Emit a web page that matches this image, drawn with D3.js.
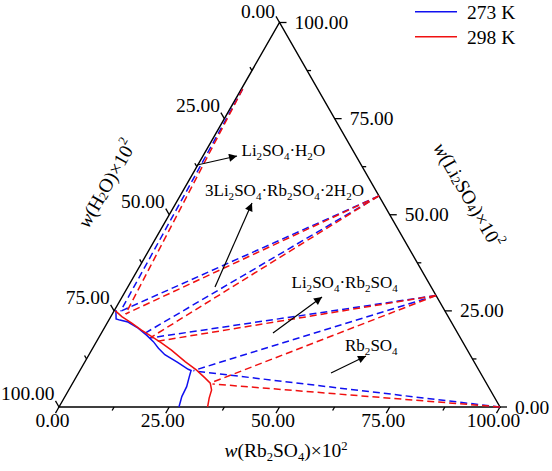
<!DOCTYPE html>
<html><head><meta charset="utf-8">
<script src="https://cdn.jsdelivr.net/npm/d3@7"></script>
<style>
body{margin:0;background:#fff}
svg{display:block}
text{font-family:"Liberation Serif","Times New Roman",serif;fill:#000}
</style>
</head><body>
<svg id="c" width="552" height="471"></svg>
<script>
// ---- data: points are [w(Rb2SO4)×10², w(Li2SO4)×10²]; w(H2O) = 100 - both ----
const majorTicks = [0, 25, 50, 75, 100];
const minorTicks = [12.5, 37.5, 62.5, 87.5];
const tickFormat = d3.format(".2f");

const series = ["273 K", "298 K"];
const seriesColors = ["#1010f0", "#f01010"];

// solubility curves
const curve273 = [[0.3,25.2],[1.5,22.9],[2.5,22.6],[4.6,22.1],[7.7,20.5],[10.5,18.7],[12.9,17.0],[14.9,15.3],[17.2,13.6],[21.1,11.6],[24.4,9.8],[25.2,9.5],[25.6,7.9],[26.3,5.3],[26.5,2.7],[27.2,0]];
const curve298 = [[0.3,25.0],[2.5,23.5],[5.6,21.8],[8.7,20.0],[11.9,18.3],[15.0,16.6],[18.1,14.8],[22.7,11.8],[26.4,9.6],[29.4,7.5],[31.2,6.2],[32.4,4.4],[32.9,2.3],[33.7,0]];

// solid phases
const phaseH = [0.3, 82.7];      // Li2SO4·H2O
const phase312 = [45.1, 54.9];   // 3Li2SO4·Rb2SO4·2H2O
const phaseLR = [71.0, 29.0];    // Li2SO4·Rb2SO4
const phaseRb = [100, 0];        // Rb2SO4

// tie-line liquid ends
const tieEnds273 = [[1.5,24.9],[1.5,24.9],[9.9,19.2],[11.6,17.95],[25.8,9.5],[25.8,9.4]];
const tieEnds298 = [[3.0,24.2],[3.0,24.2],[11.8,18.1],[13.3,17.0],[31.5,6.4],[31.8,6.0]];
const tiePhases = [phaseH, phase312, phase312, phaseLR, phaseLR, phaseRb];

// annotations: label, text start, arrow tail, arrow head
const annLabels = ["Li_2SO_4·H_2O", "3Li_2SO_4·Rb_2SO_4·2H_2O", "Li_2SO_4·Rb_2SO_4", "Rb_2SO_4"];
const annText = [[241.5,156],[205,196],[291.5,288],[345,351]];
const annTail = [[197,165],[215,287],[273,333],[331,373]];
const annHead = [[237,156],[252,203],[322,297],[366,356]];

// ---- geometry ----
const BL = [59, 407], BR = [500, 407], TP = [279.5, 22.5];
const sx = d3.scaleLinear().domain([0,100]).range([0, BR[0]-BL[0]]);
const sxL = d3.scaleLinear().domain([0,100]).range([0, TP[0]-BL[0]]);
const sy = d3.scaleLinear().domain([0,100]).range([BL[1], TP[1]]);
const P = d => [BL[0] + sx(d[0]) + sxL(d[1]), sy(d[1])];

const svg = d3.select("#c");
const defs = svg.append("defs");
defs.append("marker").attr("id","ah").attr("viewBox","0 0 10 10").attr("refX",10).attr("refY",5)
  .attr("markerWidth",11).attr("markerHeight",8).attr("markerUnits","userSpaceOnUse").attr("orient","auto")
  .append("path").attr("d","M0,0L10,5L0,10Z").attr("fill","#000");

function richText(sel, s, size) {
  const parts = s.split(/(_[0-9]+|\^[0-9]+)/).filter(p => p.length);
  let shift = 0;
  parts.forEach(p => {
    const t = sel.append("tspan");
    if (p[0] === "_") { t.text(p.slice(1)).attr("font-size", size*0.65).attr("dy", 4 - shift); shift = 4; }
    else if (p[0] === "^") { t.text(p.slice(1)).attr("font-size", size*0.65).attr("dy", -7 - shift); shift = -7; }
    else { t.text(p).attr("dy", -shift); shift = 0; }
  });
}

// ---- triangle ----
svg.append("path").attr("d", d3.line()([P([0,0]), P([100,0]), P([0,100])]) + "Z")
  .attr("fill","none").attr("stroke","#000").attr("stroke-width",1.4);

const c60 = 0.5, s60 = Math.sqrt(3)/2;
function tk(p, dir, len) {
  svg.append("line").attr("x1",p[0]).attr("y1",p[1]).attr("x2",p[0]+dir[0]*len).attr("y2",p[1]+dir[1]*len)
    .attr("stroke","#000").attr("stroke-width",1.3);
}
const fs = 19.5;
majorTicks.forEach(v => {
  // bottom: w(Rb2SO4)
  let p = P([v,0]); tk(p, [-c60, s60], 7);
  svg.append("text").attr("x", p[0]-6.5).attr("y", p[1]+20).attr("text-anchor","middle").attr("font-size",fs).text(tickFormat(v));
  // left: w(H2O)
  p = P([0,100-v]); tk(p, [-c60,-s60], 7);
  svg.append("text").attr("x", p[0]-c60*7-1).attr("y", Math.max(p[1]-s60*7-1, 17.5)).attr("text-anchor","end").attr("font-size",fs).text(tickFormat(v));
  // right: w(Li2SO4)
  p = P([100-v, v]); tk(p, [1,0], 7);
  svg.append("text").attr("x", p[0]+15).attr("y", p[1]+6.5).attr("text-anchor","start").attr("font-size",fs).text(tickFormat(v));
});
minorTicks.forEach(v => {
  tk(P([v,0]), [-c60, s60], 4);
  tk(P([0,100-v]), [-c60,-s60], 4);
  tk(P([100-v, v]), [1,0], 4);
});

// axis titles
const bt = svg.append("text").attr("x",286).attr("y",457).attr("text-anchor","middle").attr("font-size",fs);
bt.append("tspan").attr("font-style","italic").text("w");
richText(bt, "(Rb_2SO_4)×10^2", fs);

function mid(a,b,t){return [a[0]+(b[0]-a[0])*t, a[1]+(b[1]-a[1])*t];}
let lc = mid(BL, TP, 0.49); lc = [lc[0]-s60*70, lc[1]-c60*70];
const lt = svg.append("text").attr("transform",`translate(${lc[0]},${lc[1]}) rotate(-60)`)
  .attr("text-anchor","middle").attr("dominant-baseline","central").attr("font-size",fs);
lt.append("tspan").attr("font-style","italic").text("w");
richText(lt, "(H_2O)×10^2", fs);

let rc = mid(TP, BR, 0.55); rc = [rc[0]+s60*78, rc[1]-c60*78];
const rt = svg.append("text").attr("transform",`translate(${rc[0]},${rc[1]}) rotate(60)`)
  .attr("text-anchor","middle").attr("dominant-baseline","central").attr("font-size",fs);
rt.append("tspan").attr("font-style","italic").text("w");
richText(rt, "(Li_2SO_4)×10^2", fs);

// ---- tie lines ----
[tieEnds273, tieEnds298].forEach((ends, k) => {
  svg.append("g").selectAll("line").data(ends).join("line")
    .attr("x1", (d,i) => P(tiePhases[i])[0]).attr("y1", (d,i) => P(tiePhases[i])[1])
    .attr("x2", d => P(d)[0]).attr("y2", d => P(d)[1])
    .attr("stroke", seriesColors[k]).attr("stroke-width",1.5).attr("stroke-dasharray","7,4");
});

// ---- solubility curves ----
const line = d3.line().x(d => P(d)[0]).y(d => P(d)[1]);
[curve273, curve298].forEach((c, k) => {
  svg.append("path").attr("d", line(c)).attr("fill","none").attr("stroke", seriesColors[k]).attr("stroke-width",1.5);
});

// ---- annotations ----
annLabels.forEach((s, i) => {
  const t = svg.append("text").attr("x", annText[i][0]).attr("y", annText[i][1]).attr("font-size",17);
  richText(t, s, 17);
  svg.append("line").attr("x1", annTail[i][0]).attr("y1", annTail[i][1]).attr("x2", annHead[i][0]).attr("y2", annHead[i][1])
    .attr("stroke","#000").attr("stroke-width",1.2).attr("marker-end","url(#ah)");
});

// ---- legend ----
series.forEach((s, i) => {
  const y = 11.7 + i*25;
  svg.append("line").attr("x1",415).attr("x2",457).attr("y1",y).attr("y2",y).attr("stroke",seriesColors[i]).attr("stroke-width",1.5);
  svg.append("text").attr("x",467).attr("y",y+7.5).attr("font-size",fs).text(s);
});
</script>
</body></html>
